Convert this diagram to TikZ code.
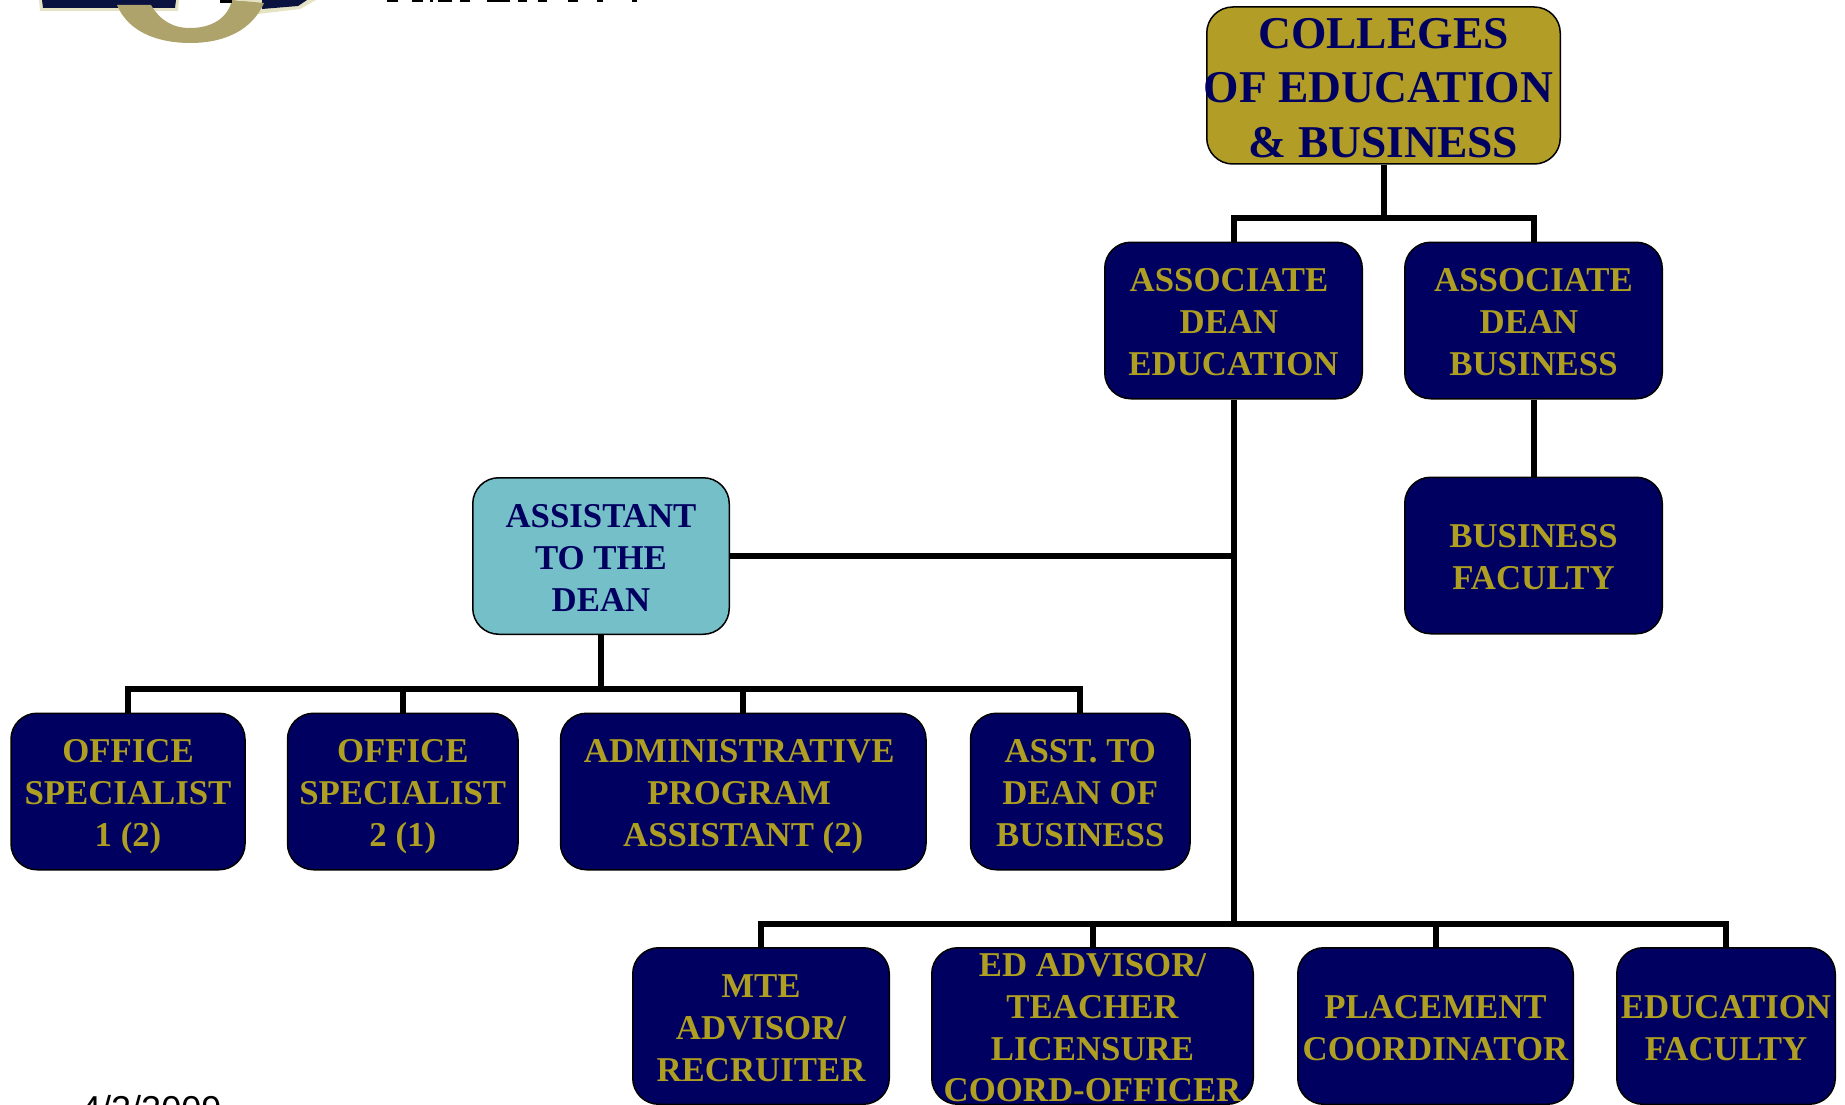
\documentclass[tikz,border=0pt]{standalone}
\usepackage{fontspec}
\setmainfont{Liberation Serif}
\newfontfamily\datefont{Liberation Sans}
\usetikzlibrary{
  positioning,
  calc
}
\definecolor{navybox}{HTML}{000060}
\definecolor{goldbox}{HTML}{B29D26}
\definecolor{goldtext}{HTML}{AE9F22}
\definecolor{tealbox}{HTML}{75BFC8}
\definecolor{ringgold}{HTML}{ADA36B}
\definecolor{palegold}{HTML}{E6E3C4}
\definecolor{logonavy}{HTML}{0A1240}
\newcommand{\tp}{\rule{0pt}{1.12em}}
\newcommand{\lowprop}{\rule[-0.36em]{0pt}{0.36em}}
\tikzset{
  office/.style = {draw = black, line width = 1.5pt, fill = navybox, text = goldtext,
    rounded corners = 26pt, align = center, inner xsep = 0pt, inner ysep = -12pt,
    minimum height = 156.5pt, font = \fontsize{34.8}{41.8}\selectfont\bfseries,
    execute at end node = \lowprop},
  assist/.style = {office, fill = tealbox, text = navybox},
  college/.style = {office, fill = goldbox, text = navybox, minimum height = 157pt,
    inner xsep = -8pt, font = \fontsize{45.5}{54.5}\selectfont\bfseries},
  link/.style = {draw = black, line width = 6pt}
}

\begin{document}
\begin{tikzpicture}[x = 1pt, y = -1pt, node distance = 41pt]
    \useasboundingbox (0,0) rectangle (1845,1105);

    \fill[palegold] (39,0) -- (40,11) -- (178,11) -- (179,0) -- cycle;
    \fill[logonavy] (42,0) -- (43,8) -- (175,8) -- (176,0) -- cycle;
    \fill[palegold] (258,14) -- (300,9) -- (316,0) -- (240,0) -- cycle;
    \fill[logonavy] (262,9) -- (298,6) -- (307,0) -- (262,0) -- cycle;
    \fill[ringgold] (117,5) .. controls (130,36) and (165,43) .. (190,43)
      .. controls (225,43) and (252,30) .. (264,3) -- (232,0)
      .. controls (228,18) and (212,28) .. (190,28)
      .. controls (172,28) and (160,20) .. (151,5) -- cycle;
    \fill[black] (220,0) rectangle (232,3);
    \foreach \a/\b in {387/398,412/423,430/433,438/452,460/470,487/510,518/527,538/547,568/578,597/603,632/637}
      \fill[black] (\a,0) rectangle (\b,2);

    \node[college,minimum width = 353.5pt] (1) at (1383.5,85.5) {\tp COLLEGES\\OF EDUCATION\kern10pt\\\& BUSINESS};
    \node[office,minimum width = 257.5pt] (2) at (1233.5,320.5) {\tp ASSOCIATE\kern9pt\\DEAN\kern9pt\\EDUCATION};
    \node[office,minimum width = 257.5pt,right = of 2] (3) {\tp ASSOCIATE\\DEAN\kern9pt\\BUSINESS};
    \node[office,minimum width = 257.5pt,below = 77pt of 3] (4) {\tp BUSINESS\\FACULTY};
    \node[assist,minimum width = 256.5pt] (5) at (601,556) {\tp ASSISTANT\\TO THE\\DEAN};

    \node[office,minimum width = 234pt] (6) at (128,791.5) {\tp OFFICE\\SPECIALIST\\1 (2)};
    \node[office,minimum width = 230.5pt,right = of 6] (7) {\tp OFFICE\\SPECIALIST\\2 (1)};
    \node[office,minimum width = 365.5pt,right = of 7] (8) {\tp ADMINISTRATIVE\kern8pt\\PROGRAM\kern8pt\\ASSISTANT (2)};
    \node[office,minimum width = 219.5pt,right = 43pt of 8] (9) {\tp ASST. TO\\DEAN OF\\BUSINESS};

    \node[office,minimum width = 256.5pt] (10) at (761,1026) {\tp MTE\\ADVISOR/\\RECRUITER};
    \node[office,minimum width = 321.5pt,right = of 10] (11) {\tp ED ADVISOR/\\TEACHER\\LICENSURE\\COORD-OFFICER};
    \node[office,minimum width = 275.5pt,right = 43pt of 11] (12) {\tp PLACEMENT\\COORDINATOR};
    \node[office,minimum width = 218.5pt,right = 42pt of 12] (13) {\tp EDUCATION\\FACULTY};

    \node[anchor = base west,inner sep = 0pt,font = \datefont\fontsize{36}{40}\selectfont] (date) at (81,1121) {4/2/2009};

    \coordinate (top) at (1.south |- 0,218);
    \coordinate (mid) at (5.south |- 0,689);
    \coordinate (low) at (2.south |- 0,924);
    \coordinate (side) at (2.south |- 5.east);

    \draw[link] (1.south) -- (top);
    \draw[link] (2.north) |- (top) -| (3.north);
    \draw[link] (3.south) -- (4.north);
    \draw[link] (2.south) -- (low);
    \draw[link] (5.east) -- (side);
    \draw[link] (5.south) -- (mid);
    \draw[link] (6.north) |- (mid) -| (9.north);
    \draw[link] (7.north) -- (7.north |- mid);
    \draw[link] (8.north) -- (8.north |- mid);
    \draw[link] (10.north) |- (low) -| (13.north);
    \draw[link] (11.north) -- (11.north |- low);
    \draw[link] (12.north) -- (12.north |- low);
  \end{tikzpicture}
\end{document}
